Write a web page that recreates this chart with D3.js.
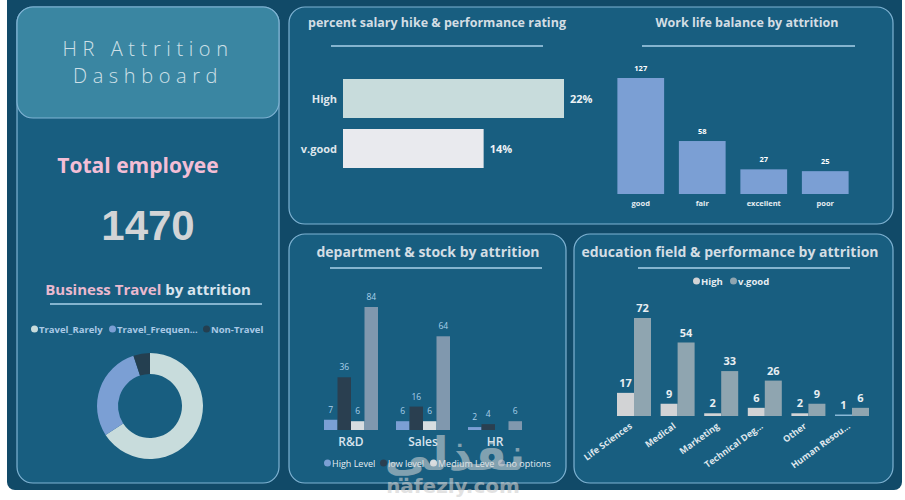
<!DOCTYPE html>
<html>
<head>
<meta charset="utf-8">
<script src="https://cdn.jsdelivr.net/npm/d3@7"></script>
<style>
  body { margin: 0; background: #fff; }
  svg text { font-family: "Open Sans", "Noto Sans", sans-serif; }
</style>
</head>
<body>
<div id="chart"></div>
<script>
// ---- data ----
var totalEmployees = 1470;

var travelCats = ["Travel_Rarely", "Travel_Frequently", "Non-Travel"];
var travelVals = [156, 69, 12];

var ratingCats = ["High", "v.good"];
var hikeVals = [22, 14];

var wlbCats = ["good", "fair", "excellent", "poor"];
var wlbVals = [127, 58, 27, 25];

var deptCats = ["R&D", "Sales", "HR"];
var stockCats = ["High Level", "low level", "Medium Level", "no options"];
var stockHigh = [7, 6, 2];
var stockLow = [36, 16, 4];
var stockMedium = [6, 6, 0];
var stockNone = [84, 64, 6];

var eduCats = ["Life Sciences", "Medical", "Marketing", "Technical Degree", "Other", "Human Resources"];
var eduLabels = ["Life Sciences", "Medical", "Marketing", "Technical Deg...", "Other", "Human Resou..."];
var perfCats = ["High", "v.good"];
var eduHigh = [17, 9, 2, 6, 2, 1];
var eduVgood = [72, 54, 33, 26, 9, 6];

// ---- colours ----
var bgDark = "#114a68";
var panelFill = "#185e80";
var panelStroke = "#7fb3d3";
var titleCol = "#d3dde4";
var pink = "#f3bed6";

var width = 905, height = 500;
var svg = d3.select("#chart").append("svg").attr("width", width).attr("height", height);

// dashboard background
svg.append("rect").attr("x", 7).attr("y", -10).attr("width", 895).attr("height", 500)
  .attr("rx", 8).attr("fill", bgDark);

function panel(x, y, w, h, fill) {
  svg.append("rect").attr("x", x).attr("y", y).attr("width", w).attr("height", h)
    .attr("rx", 16).attr("fill", fill || panelFill)
    .attr("stroke", panelStroke).attr("stroke-width", 1.2);
}
function title(txt, cx, y, size) {
  svg.append("text").attr("x", cx).attr("y", y).attr("text-anchor", "middle")
    .attr("fill", titleCol).attr("font-size", size || 13).attr("font-weight", 700).text(txt);
}
function rule(x1, x2, y) {
  svg.append("line").attr("x1", x1).attr("x2", x2).attr("y1", y).attr("y2", y)
    .attr("stroke", "#a9d2ea").attr("stroke-width", 1.6);
}

// ---- left column ----
panel(17, 7, 262, 476);
panel(17, 7, 262, 111, "#3a86a2");
svg.append("text").attr("x", 148).attr("y", 56).attr("text-anchor", "middle")
  .attr("fill", "#cfe0e8").attr("font-size", 20).attr("letter-spacing", 5.6)
  .attr("font-family", "Inter, sans-serif").attr("font-weight", 300).text("HR Attrition");
svg.append("text").attr("x", 148).attr("y", 83).attr("text-anchor", "middle")
  .attr("fill", "#cfe0e8").attr("font-size", 20).attr("letter-spacing", 5.6)
  .attr("font-family", "Inter, sans-serif").attr("font-weight", 300).text("Dashboard");

svg.append("text").attr("x", 138).attr("y", 173).attr("text-anchor", "middle")
  .attr("fill", pink).attr("font-size", 21).attr("font-weight", 700).text("Total employee");
svg.append("text").attr("x", 148).attr("y", 240).attr("text-anchor", "middle")
  .style("font-family", "'Liberation Sans', Arial, sans-serif")
  .attr("fill", "#d2d4d6").attr("font-size", 42).attr("font-weight", 700).text(totalEmployees);

var bt = svg.append("text").attr("x", 148).attr("y", 295).attr("text-anchor", "middle")
  .attr("font-size", 15).attr("font-weight", 700);
bt.append("tspan").attr("fill", "#eab9cf").text("Business Travel");
bt.append("tspan").attr("fill", "#d8e4ee").text(" by attrition");
rule(50, 262, 304);

var travelColor = d3.scaleOrdinal().domain(travelCats).range(["#c8dcdc", "#7b9fd4", "#243f50"]);
var travelShown = ["Travel_Rarely", "Travel_Frequen...", "Non-Travel"];
var tl = svg.append("g").attr("transform", "translate(31,329)");
var tlx = [0, 78, 172];
travelCats.forEach(function(c, i) {
  tl.append("circle").attr("cx", tlx[i] + 3.5).attr("cy", 0).attr("r", 3.5).attr("fill", travelColor(c));
  tl.append("text").attr("x", tlx[i] + 8).attr("y", 3.5).attr("font-size", 9.5).attr("font-weight", 700)
    .attr("fill", "#a9c9e6").text(travelShown[i]);
});

var pie = d3.pie().sort(null).value(function(d) { return d; });
var arc = d3.arc().innerRadius(32).outerRadius(53);
svg.append("g").attr("transform", "translate(150,406)")
  .selectAll("path").data(pie(travelVals)).join("path")
  .attr("d", arc).attr("fill", function(d, i) { return travelColor(travelCats[i]); });

// ---- top right panel ----
panel(289, 7, 604, 217);

// salary hike by rating
title("percent salary hike & performance rating", 437, 27, 12.5);
rule(331, 543, 46);
var hx = d3.scaleLinear().domain([0, 22]).range([343, 564]);
var hy = d3.scaleBand().domain(ratingCats).range([75, 172]).paddingInner(0.22).paddingOuter(0.08);
var hikeColor = d3.scaleOrdinal().domain(ratingCats).range(["#c8dcdc", "#e9eaee"]);
svg.append("g").selectAll("rect").data(ratingCats).join("rect")
  .attr("x", hx(0)).attr("y", function(d) { return hy(d); })
  .attr("width", function(d, i) { return hx(hikeVals[i]) - hx(0); })
  .attr("height", hy.bandwidth()).attr("fill", function(d) { return hikeColor(d); });
svg.append("g").selectAll("text").data(ratingCats).join("text")
  .attr("x", 337).attr("y", function(d) { return hy(d) + hy.bandwidth() / 2 + 4; })
  .attr("text-anchor", "end").attr("font-size", 11).attr("font-weight", 700)
  .attr("fill", "#dfe6ec").text(function(d) { return d; });
svg.append("g").selectAll("text").data(ratingCats).join("text")
  .attr("x", function(d, i) { return hx(hikeVals[i]) + 6; })
  .attr("y", function(d) { return hy(d) + hy.bandwidth() / 2 + 4; })
  .attr("font-size", 11).attr("font-weight", 700)
  .attr("fill", "#eef2f5").text(function(d, i) { return hikeVals[i] + "%"; });

// work life balance
title("Work life balance by attrition", 747, 27, 12.5);
rule(642, 855, 46);
var wx = d3.scaleBand().domain(wlbCats).range([610, 856]).paddingInner(0.24).paddingOuter(0.12);
var wy = d3.scaleLinear().domain([0, 127]).range([194, 78]);
svg.append("g").selectAll("rect").data(wlbCats).join("rect")
  .attr("x", function(d) { return wx(d); }).attr("y", function(d, i) { return wy(wlbVals[i]); })
  .attr("width", wx.bandwidth()).attr("height", function(d, i) { return wy(0) - wy(wlbVals[i]); })
  .attr("fill", "#7b9fd4");
svg.append("g").selectAll("text").data(wlbCats).join("text")
  .attr("x", function(d) { return wx(d) + wx.bandwidth() / 2; })
  .attr("y", function(d, i) { return wy(wlbVals[i]) - 7; })
  .attr("text-anchor", "middle").attr("font-size", 7.5).attr("font-weight", 700)
  .attr("fill", "#ffffff").text(function(d, i) { return wlbVals[i]; });
svg.append("g").selectAll("text").data(wlbCats).join("text")
  .attr("x", function(d) { return wx(d) + wx.bandwidth() / 2; }).attr("y", 206)
  .attr("text-anchor", "middle").attr("font-size", 7.5).attr("font-weight", 700)
  .attr("fill", "#e6edf2").text(function(d) { return d; });

// ---- department & stock ----
panel(289, 234, 277, 249);
title("department & stock by attrition", 428, 257, 14);
rule(330, 542, 268);
var dx = d3.scaleBand().domain(deptCats).range([315, 531]).paddingInner(0.25).paddingOuter(0.125);
var sx = d3.scaleBand().domain(stockCats).range([0, dx.bandwidth()]);
var dy = d3.scaleLinear().domain([0, 84]).range([430, 307]);
var stockColor = d3.scaleOrdinal().domain(stockCats).range(["#7b9fd4", "#2a3f50", "#d8dde0", "#8098ae"]);
var stockSeries = [stockHigh, stockLow, stockMedium, stockNone];
var dg = svg.append("g");
stockCats.forEach(function(s, si) {
  var vals = stockSeries[si];
  deptCats.forEach(function(dep, di) {
    if (!vals[di]) return;
    var x = dx(dep) + sx(s);
    dg.append("rect").attr("x", x).attr("y", dy(vals[di]))
      .attr("width", sx.bandwidth()).attr("height", dy(0) - dy(vals[di]))
      .attr("fill", stockColor(s));
    dg.append("text").attr("x", x + sx.bandwidth() / 2).attr("y", dy(vals[di]) - 7)
      .attr("text-anchor", "middle").attr("font-size", 8.5).attr("fill", "#a9d0ea").text(vals[di]);
  });
});
svg.append("g").attr("transform", "translate(0,430)")
  .call(d3.axisBottom(dx).tickSize(0).tickPadding(7))
  .call(function(g) { g.select(".domain").remove(); })
  .selectAll("text").attr("font-size", 12).attr("font-weight", 600)
  .attr("fill", "#d8e4ee").style("font-family", "'Open Sans', sans-serif");
var sl = svg.append("g").attr("transform", "translate(324,463)");
var slx = [0, 56, 106, 174];
var slShown = ["High Level", "low level", "Medium Leve", "no options"];
stockCats.forEach(function(s, i) {
  sl.append("circle").attr("cx", slx[i] + 3.5).attr("cy", 0).attr("r", 3.5).attr("fill", stockColor(s));
  sl.append("text").attr("x", slx[i] + 8).attr("y", 3.5).attr("font-size", 9)
    .attr("fill", "#e6edf2").text(slShown[i]);
});

// ---- education field & performance ----
panel(574, 234, 319, 249);
title("education field & performance by attrition", 730, 257, 14);
rule(638, 850, 268);
var perfColor = d3.scaleOrdinal().domain(perfCats).range(["#d2d3d5", "#8fa5b0"]);
var el = svg.append("g").attr("transform", "translate(693,281)");
var elx = [0, 37];
perfCats.forEach(function(p, i) {
  el.append("circle").attr("cx", elx[i] + 3.5).attr("cy", 0).attr("r", 3.5).attr("fill", perfColor(p));
  el.append("text").attr("x", elx[i] + 8).attr("y", 3.5).attr("font-size", 9.5).attr("font-weight", 700)
    .attr("fill", "#e6edf2").text(p);
});
var ex = d3.scaleBand().domain(eduCats).range([617, 869]).paddingInner(0.22).paddingOuter(0);
var px = d3.scaleBand().domain(perfCats).range([0, ex.bandwidth()]);
var ey = d3.scaleLinear().domain([0, 72]).range([416, 318]);
var perfSeries = [eduHigh, eduVgood];
var eg = svg.append("g");
perfCats.forEach(function(p, pi) {
  var vals = perfSeries[pi];
  eduCats.forEach(function(c, ci) {
    var x = ex(c) + px(p);
    var h = Math.max(ey(0) - ey(vals[ci]), 1.5);
    eg.append("rect").attr("x", x).attr("y", ey(0) - h)
      .attr("width", px.bandwidth()).attr("height", h)
      .attr("fill", vals[ci] === 1 && pi === 0 ? "#8ab8d6" : perfColor(p));
    eg.append("text").attr("x", x + px.bandwidth() / 2).attr("y", ey(0) - h - 6)
      .attr("text-anchor", "middle").attr("font-size", 11).attr("font-weight", 700)
      .attr("fill", "#e8eef2").text(vals[ci]);
  });
});
var eduLabel = d3.scaleOrdinal().domain(eduCats).range(eduLabels);
svg.append("g").attr("transform", "translate(0,416)")
  .call(d3.axisBottom(ex).tickSize(0).tickFormat(function(d) { return eduLabel(d); }))
  .call(function(g) { g.select(".domain").remove(); })
  .selectAll("text").attr("text-anchor", "end").attr("dy", 0)
  .attr("transform", "translate(-3,9) rotate(-36)")
  .attr("font-size", 9).attr("font-weight", 700).attr("fill", "#dfe6ec")
  .style("font-family", "'Open Sans', sans-serif");

// ---- watermark ----
svg.append("text").attr("x", 455).attr("y", 470).attr("text-anchor", "middle")
  .attr("font-size", 46).attr("font-weight", 700).attr("fill", "#d8d8d8").attr("opacity", 0.55)
  .style("font-family", "'DejaVu Sans', sans-serif").text("نفذلي");
svg.append("text").attr("x", 453).attr("y", 493).attr("text-anchor", "middle")
  .attr("font-size", 20).attr("font-weight", 700).attr("fill", "#cfcfcf").attr("opacity", 0.6)
  .style("font-family", "'DejaVu Sans', sans-serif").text("nafezly.com");
</script>
</body>
</html>
